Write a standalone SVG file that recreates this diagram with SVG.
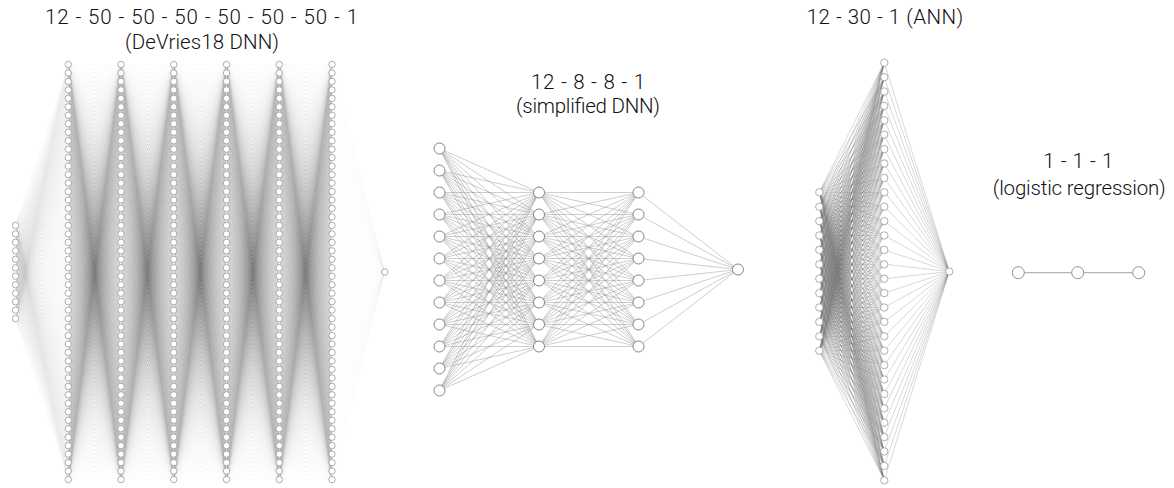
<svg xmlns="http://www.w3.org/2000/svg" xmlns:xlink="http://www.w3.org/1999/xlink" width="1174" height="488" viewBox="0 0 1174 488">
<style>
.t{font-family:"Roboto","Liberation Sans",sans-serif;font-weight:300;font-size:20.5px;fill:#111;text-anchor:middle}
.fan{fill:none;vector-effect:non-scaling-stroke}
.e50{stroke:#000;stroke-opacity:0.032;stroke-width:0.6}
.e8{stroke:#888;stroke-opacity:0.7;stroke-width:0.6}
.e30{stroke:#666;stroke-opacity:0.5;stroke-width:0.5}
.n50 circle{fill:#fff;stroke:#999;stroke-width:0.8}
.n8 circle{fill:#fff;stroke:#666;stroke-width:0.8}
.n30 circle{fill:#fff;stroke:#999;stroke-width:0.8}
.nl circle{fill:#fff;stroke:#777;stroke-width:0.8}
</style>
<defs>
<path id="fan50" class="fan e50" d="M0 0H52.75M0 0L52.75 8.47M0 0L52.75 16.94M0 0L52.75 25.41M0 0L52.75 33.88M0 0L52.75 42.35M0 0L52.75 50.82M0 0L52.75 59.29M0 0L52.75 67.76M0 0L52.75 76.23M0 0L52.75 84.7M0 0L52.75 93.17M0 0L52.75 101.64M0 0L52.75 110.11M0 0L52.75 118.58M0 0L52.75 127.05M0 0L52.75 135.52M0 0L52.75 143.99M0 0L52.75 152.46M0 0L52.75 160.93M0 0L52.75 169.4M0 0L52.75 177.87M0 0L52.75 186.34M0 0L52.75 194.81M0 0L52.75 203.28M0 0L52.75 211.75M0 0L52.75 220.22M0 0L52.75 228.69M0 0L52.75 237.16M0 0L52.75 245.63M0 0L52.75 254.1M0 0L52.75 262.57M0 0L52.75 271.04M0 0L52.75 279.51M0 0L52.75 287.98M0 0L52.75 296.45M0 0L52.75 304.92M0 0L52.75 313.39M0 0L52.75 321.86M0 0L52.75 330.33M0 0L52.75 338.8M0 0L52.75 347.27M0 0L52.75 355.74M0 0L52.75 364.21M0 0L52.75 372.68M0 0L52.75 381.15M0 0L52.75 389.62M0 0L52.75 398.09M0 0L52.75 406.56M0 0L52.75 415.03"/>
<g id="pair50">
<use xlink:href="#fan50"/>
<use xlink:href="#fan50" transform="matrix(1,-0.1606,0,1,0,8.47)"/>
<use xlink:href="#fan50" transform="matrix(1,-0.3211,0,1,0,16.94)"/>
<use xlink:href="#fan50" transform="matrix(1,-0.4817,0,1,0,25.41)"/>
<use xlink:href="#fan50" transform="matrix(1,-0.6423,0,1,0,33.88)"/>
<use xlink:href="#fan50" transform="matrix(1,-0.8028,0,1,0,42.35)"/>
<use xlink:href="#fan50" transform="matrix(1,-0.9634,0,1,0,50.82)"/>
<use xlink:href="#fan50" transform="matrix(1,-1.1240,0,1,0,59.29)"/>
<use xlink:href="#fan50" transform="matrix(1,-1.2846,0,1,0,67.76)"/>
<use xlink:href="#fan50" transform="matrix(1,-1.4451,0,1,0,76.23)"/>
<use xlink:href="#fan50" transform="matrix(1,-1.6057,0,1,0,84.7)"/>
<use xlink:href="#fan50" transform="matrix(1,-1.7663,0,1,0,93.17)"/>
<use xlink:href="#fan50" transform="matrix(1,-1.9268,0,1,0,101.64)"/>
<use xlink:href="#fan50" transform="matrix(1,-2.0874,0,1,0,110.11)"/>
<use xlink:href="#fan50" transform="matrix(1,-2.2480,0,1,0,118.58)"/>
<use xlink:href="#fan50" transform="matrix(1,-2.4085,0,1,0,127.05)"/>
<use xlink:href="#fan50" transform="matrix(1,-2.5691,0,1,0,135.52)"/>
<use xlink:href="#fan50" transform="matrix(1,-2.7297,0,1,0,143.99)"/>
<use xlink:href="#fan50" transform="matrix(1,-2.8902,0,1,0,152.46)"/>
<use xlink:href="#fan50" transform="matrix(1,-3.0508,0,1,0,160.93)"/>
<use xlink:href="#fan50" transform="matrix(1,-3.2114,0,1,0,169.4)"/>
<use xlink:href="#fan50" transform="matrix(1,-3.3719,0,1,0,177.87)"/>
<use xlink:href="#fan50" transform="matrix(1,-3.5325,0,1,0,186.34)"/>
<use xlink:href="#fan50" transform="matrix(1,-3.6931,0,1,0,194.81)"/>
<use xlink:href="#fan50" transform="matrix(1,-3.8537,0,1,0,203.28)"/>
<use xlink:href="#fan50" transform="matrix(1,-4.0142,0,1,0,211.75)"/>
<use xlink:href="#fan50" transform="matrix(1,-4.1748,0,1,0,220.22)"/>
<use xlink:href="#fan50" transform="matrix(1,-4.3354,0,1,0,228.69)"/>
<use xlink:href="#fan50" transform="matrix(1,-4.4959,0,1,0,237.16)"/>
<use xlink:href="#fan50" transform="matrix(1,-4.6565,0,1,0,245.63)"/>
<use xlink:href="#fan50" transform="matrix(1,-4.8171,0,1,0,254.1)"/>
<use xlink:href="#fan50" transform="matrix(1,-4.9776,0,1,0,262.57)"/>
<use xlink:href="#fan50" transform="matrix(1,-5.1382,0,1,0,271.04)"/>
<use xlink:href="#fan50" transform="matrix(1,-5.2988,0,1,0,279.51)"/>
<use xlink:href="#fan50" transform="matrix(1,-5.4593,0,1,0,287.98)"/>
<use xlink:href="#fan50" transform="matrix(1,-5.6199,0,1,0,296.45)"/>
<use xlink:href="#fan50" transform="matrix(1,-5.7805,0,1,0,304.92)"/>
<use xlink:href="#fan50" transform="matrix(1,-5.9411,0,1,0,313.39)"/>
<use xlink:href="#fan50" transform="matrix(1,-6.1016,0,1,0,321.86)"/>
<use xlink:href="#fan50" transform="matrix(1,-6.2622,0,1,0,330.33)"/>
<use xlink:href="#fan50" transform="matrix(1,-6.4228,0,1,0,338.8)"/>
<use xlink:href="#fan50" transform="matrix(1,-6.5833,0,1,0,347.27)"/>
<use xlink:href="#fan50" transform="matrix(1,-6.7439,0,1,0,355.74)"/>
<use xlink:href="#fan50" transform="matrix(1,-6.9045,0,1,0,364.21)"/>
<use xlink:href="#fan50" transform="matrix(1,-7.0650,0,1,0,372.68)"/>
<use xlink:href="#fan50" transform="matrix(1,-7.2256,0,1,0,381.15)"/>
<use xlink:href="#fan50" transform="matrix(1,-7.3862,0,1,0,389.62)"/>
<use xlink:href="#fan50" transform="matrix(1,-7.5467,0,1,0,398.09)"/>
<use xlink:href="#fan50" transform="matrix(1,-7.7073,0,1,0,406.56)"/>
<use xlink:href="#fan50" transform="matrix(1,-7.8679,0,1,0,415.03)"/>
</g>
<g id="col10" fill="#fff" stroke="#999" stroke-width="0.8">
<circle cx="0" cy="0" r="3.2"/><circle cx="0" cy="8.47" r="3.2"/><circle cx="0" cy="16.94" r="3.2"/><circle cx="0" cy="25.41" r="3.2"/><circle cx="0" cy="33.88" r="3.2"/><circle cx="0" cy="42.35" r="3.2"/><circle cx="0" cy="50.82" r="3.2"/><circle cx="0" cy="59.29" r="3.2"/><circle cx="0" cy="67.76" r="3.2"/><circle cx="0" cy="76.23" r="3.2"/>
</g>
<g id="col50">
<use xlink:href="#col10"/><use xlink:href="#col10" y="84.7"/><use xlink:href="#col10" y="169.4"/><use xlink:href="#col10" y="254.1"/><use xlink:href="#col10" y="338.8"/>
</g>
<path id="fan8" class="fan e8" d="M0 0H99.5M0 0L99.5 22M0 0L99.5 44M0 0L99.5 66M0 0L99.5 88M0 0L99.5 110M0 0L99.5 132M0 0L99.5 154"/>
<path id="fan30" class="fan e30" d="M0 0H65M0 0L65 14.4M0 0L65 28.8M0 0L65 43.2M0 0L65 57.6M0 0L65 72M0 0L65 86.4M0 0L65 100.8M0 0L65 115.2M0 0L65 129.6M0 0L65 144M0 0L65 158.4M0 0L65 172.8M0 0L65 187.2M0 0L65 201.6M0 0L65 216M0 0L65 230.4M0 0L65 244.8M0 0L65 259.2M0 0L65 273.6M0 0L65 288M0 0L65 302.4M0 0L65 316.8M0 0L65 331.2M0 0L65 345.6M0 0L65 360M0 0L65 374.4M0 0L65 388.8M0 0L65 403.2M0 0L65 417.6"/>
</defs>
<rect width="1174" height="488" fill="#fff"/>

<g id="connectors">
  <g id="devries-edges" transform="translate(0,64.5)">
    <g transform="translate(15.5,0)">
      <use xlink:href="#fan50" transform="matrix(1,-3.0508,0,1,0,160.93)"/>
      <use xlink:href="#fan50" transform="matrix(1,-3.2114,0,1,0,169.4)"/>
      <use xlink:href="#fan50" transform="matrix(1,-3.3719,0,1,0,177.87)"/>
      <use xlink:href="#fan50" transform="matrix(1,-3.5325,0,1,0,186.34)"/>
      <use xlink:href="#fan50" transform="matrix(1,-3.6931,0,1,0,194.81)"/>
      <use xlink:href="#fan50" transform="matrix(1,-3.8537,0,1,0,203.28)"/>
      <use xlink:href="#fan50" transform="matrix(1,-4.0142,0,1,0,211.75)"/>
      <use xlink:href="#fan50" transform="matrix(1,-4.1748,0,1,0,220.22)"/>
      <use xlink:href="#fan50" transform="matrix(1,-4.3354,0,1,0,228.69)"/>
      <use xlink:href="#fan50" transform="matrix(1,-4.4959,0,1,0,237.16)"/>
      <use xlink:href="#fan50" transform="matrix(1,-4.6565,0,1,0,245.63)"/>
      <use xlink:href="#fan50" transform="matrix(1,-4.8171,0,1,0,254.1)"/>
    </g>
    <use xlink:href="#pair50" x="68.25"/>
    <use xlink:href="#pair50" x="121"/>
    <use xlink:href="#pair50" x="173.75"/>
    <use xlink:href="#pair50" x="226.5"/>
    <use xlink:href="#pair50" x="279.25"/>
    <use xlink:href="#fan50" transform="translate(384.75,0) scale(-1,1) matrix(1,-3.9339,0,1,0,207.515)"/>
  </g>
  <g id="simplified-edges" transform="translate(0,192.5)">
    <g transform="translate(439.5,0)">
      <use xlink:href="#fan8" transform="matrix(1,0.4422,0,1,0,-44)"/>
      <use xlink:href="#fan8" transform="matrix(1,0.2211,0,1,0,-22)"/>
      <use xlink:href="#fan8"/>
      <use xlink:href="#fan8" transform="matrix(1,-0.2211,0,1,0,22)"/>
      <use xlink:href="#fan8" transform="matrix(1,-0.4422,0,1,0,44)"/>
      <use xlink:href="#fan8" transform="matrix(1,-0.6633,0,1,0,66)"/>
      <use xlink:href="#fan8" transform="matrix(1,-0.8844,0,1,0,88)"/>
      <use xlink:href="#fan8" transform="matrix(1,-1.1055,0,1,0,110)"/>
      <use xlink:href="#fan8" transform="matrix(1,-1.3266,0,1,0,132)"/>
      <use xlink:href="#fan8" transform="matrix(1,-1.5477,0,1,0,154)"/>
      <use xlink:href="#fan8" transform="matrix(1,-1.7688,0,1,0,176)"/>
      <use xlink:href="#fan8" transform="matrix(1,-1.9900,0,1,0,198)"/>
    </g>
    <g transform="translate(539,0)">
      <use xlink:href="#fan8"/>
      <use xlink:href="#fan8" transform="matrix(1,-0.2211,0,1,0,22)"/>
      <use xlink:href="#fan8" transform="matrix(1,-0.4422,0,1,0,44)"/>
      <use xlink:href="#fan8" transform="matrix(1,-0.6633,0,1,0,66)"/>
      <use xlink:href="#fan8" transform="matrix(1,-0.8844,0,1,0,88)"/>
      <use xlink:href="#fan8" transform="matrix(1,-1.1055,0,1,0,110)"/>
      <use xlink:href="#fan8" transform="matrix(1,-1.3266,0,1,0,132)"/>
      <use xlink:href="#fan8" transform="matrix(1,-1.5477,0,1,0,154)"/>
    </g>
    <use xlink:href="#fan8" transform="translate(738,0) scale(-1,1) matrix(1,-0.7739,0,1,0,77)"/>
  </g>
  <g id="ann-edges" transform="translate(0,62.7)">
    <g transform="translate(819.3,0)">
      <use xlink:href="#fan30" transform="matrix(1,-1.9938,0,1,0,129.6)"/>
      <use xlink:href="#fan30" transform="matrix(1,-2.2154,0,1,0,144)"/>
      <use xlink:href="#fan30" transform="matrix(1,-2.4369,0,1,0,158.4)"/>
      <use xlink:href="#fan30" transform="matrix(1,-2.6585,0,1,0,172.8)"/>
      <use xlink:href="#fan30" transform="matrix(1,-2.8800,0,1,0,187.2)"/>
      <use xlink:href="#fan30" transform="matrix(1,-3.1015,0,1,0,201.6)"/>
      <use xlink:href="#fan30" transform="matrix(1,-3.3231,0,1,0,216)"/>
      <use xlink:href="#fan30" transform="matrix(1,-3.5446,0,1,0,230.4)"/>
      <use xlink:href="#fan30" transform="matrix(1,-3.7662,0,1,0,244.8)"/>
      <use xlink:href="#fan30" transform="matrix(1,-3.9877,0,1,0,259.2)"/>
      <use xlink:href="#fan30" transform="matrix(1,-4.2092,0,1,0,273.6)"/>
      <use xlink:href="#fan30" transform="matrix(1,-4.4308,0,1,0,288)"/>
    </g>
    <use xlink:href="#fan30" transform="translate(949.3,0) scale(-1,1) matrix(1,-3.2123,0,1,0,208.8)"/>
  </g>
  <g id="logistic-edges" stroke="#999" stroke-width="0.9">
    <line x1="1024.3" y1="272.7" x2="1071.7" y2="272.7"/>
    <line x1="1083.7" y1="272.7" x2="1132.7" y2="272.7"/>
  </g>
</g>

<g id="devries-dnn">
  <g id="devries-input" class="n50" transform="translate(15.5,64.5)">
    <use xlink:href="#col10" y="160.93"/>
    <circle cx="0" cy="245.63" r="3.2"/><circle cx="0" cy="254.1" r="3.2"/>
  </g>
  <g id="devries-h1"><use xlink:href="#col50" x="68.25" y="64.5"/></g>
  <g id="devries-h2"><use xlink:href="#col50" x="121" y="64.5"/></g>
  <g id="devries-h3"><use xlink:href="#col50" x="173.75" y="64.5"/></g>
  <g id="devries-h4"><use xlink:href="#col50" x="226.5" y="64.5"/></g>
  <g id="devries-h5"><use xlink:href="#col50" x="279.25" y="64.5"/></g>
  <g id="devries-h6"><use xlink:href="#col50" x="332" y="64.5"/></g>
  <g id="devries-output" class="n50"><circle cx="384.75" cy="272" r="3.2"/></g>
  <text class="t" x="201.5" y="24" textLength="313" lengthAdjust="spacing">12 - 50 - 50 - 50 - 50 - 50 - 50 - 1</text>
  <text class="t" x="202" y="49" textLength="154" lengthAdjust="spacing">(DeVries18 DNN)</text>
</g>

<g id="simplified-dnn">
  <g id="simp-input" class="n8">
    <circle cx="439.5" cy="148.5" r="5.5"/><circle cx="439.5" cy="170.5" r="5.5"/><circle cx="439.5" cy="192.5" r="5.5"/><circle cx="439.5" cy="214.5" r="5.5"/><circle cx="439.5" cy="236.5" r="5.5"/><circle cx="439.5" cy="258.5" r="5.5"/><circle cx="439.5" cy="280.5" r="5.5"/><circle cx="439.5" cy="302.5" r="5.5"/><circle cx="439.5" cy="324.5" r="5.5"/><circle cx="439.5" cy="346.5" r="5.5"/><circle cx="439.5" cy="368.5" r="5.5"/><circle cx="439.5" cy="390.5" r="5.5"/>
  </g>
  <g id="simp-h1" class="n8">
    <circle cx="539" cy="192.5" r="5.5"/><circle cx="539" cy="214.5" r="5.5"/><circle cx="539" cy="236.5" r="5.5"/><circle cx="539" cy="258.5" r="5.5"/><circle cx="539" cy="280.5" r="5.5"/><circle cx="539" cy="302.5" r="5.5"/><circle cx="539" cy="324.5" r="5.5"/><circle cx="539" cy="346.5" r="5.5"/>
  </g>
  <g id="simp-h2" class="n8">
    <circle cx="638.5" cy="192.5" r="5.5"/><circle cx="638.5" cy="214.5" r="5.5"/><circle cx="638.5" cy="236.5" r="5.5"/><circle cx="638.5" cy="258.5" r="5.5"/><circle cx="638.5" cy="280.5" r="5.5"/><circle cx="638.5" cy="302.5" r="5.5"/><circle cx="638.5" cy="324.5" r="5.5"/><circle cx="638.5" cy="346.5" r="5.5"/>
  </g>
  <g id="simp-output" class="n8"><circle cx="738" cy="269.5" r="5.5"/></g>
  <text class="t" x="588" y="89" textLength="114" lengthAdjust="spacing">12 - 8 - 8 - 1</text>
  <text class="t" x="588" y="113" textLength="144" lengthAdjust="spacing">(simplified DNN)</text>
</g>

<g id="ann">
  <g id="ann-input" class="n30">
    <circle cx="819.3" cy="192.3" r="3.7"/><circle cx="819.3" cy="206.7" r="3.7"/><circle cx="819.3" cy="221.1" r="3.7"/><circle cx="819.3" cy="235.5" r="3.7"/><circle cx="819.3" cy="249.9" r="3.7"/><circle cx="819.3" cy="264.3" r="3.7"/><circle cx="819.3" cy="278.7" r="3.7"/><circle cx="819.3" cy="293.1" r="3.7"/><circle cx="819.3" cy="307.5" r="3.7"/><circle cx="819.3" cy="321.9" r="3.7"/><circle cx="819.3" cy="336.3" r="3.7"/><circle cx="819.3" cy="350.7" r="3.7"/>
  </g>
  <g id="ann-hidden" class="n30" transform="translate(884.3,62.7)">
    <circle cy="0" r="3.7"/><circle cy="14.4" r="3.7"/><circle cy="28.8" r="3.7"/><circle cy="43.2" r="3.7"/><circle cy="57.6" r="3.7"/><circle cy="72" r="3.7"/><circle cy="86.4" r="3.7"/><circle cy="100.8" r="3.7"/><circle cy="115.2" r="3.7"/><circle cy="129.6" r="3.7"/><circle cy="144" r="3.7"/><circle cy="158.4" r="3.7"/><circle cy="172.8" r="3.7"/><circle cy="187.2" r="3.7"/><circle cy="201.6" r="3.7"/><circle cy="216" r="3.7"/><circle cy="230.4" r="3.7"/><circle cy="244.8" r="3.7"/><circle cy="259.2" r="3.7"/><circle cy="273.6" r="3.7"/><circle cy="288" r="3.7"/><circle cy="302.4" r="3.7"/><circle cy="316.8" r="3.7"/><circle cy="331.2" r="3.7"/><circle cy="345.6" r="3.7"/><circle cy="360" r="3.7"/><circle cy="374.4" r="3.7"/><circle cy="388.8" r="3.7"/><circle cy="403.2" r="3.7"/><circle cy="417.6" r="3.7"/>
  </g>
  <g id="ann-output" class="n30"><circle cx="949.3" cy="271.5" r="3.7"/></g>
  <text class="t" x="885" y="24" textLength="156.6" lengthAdjust="spacing">12 - 30 - 1 (ANN)</text>
</g>

<g id="logistic">
  <g id="log-input" class="nl"><circle cx="1018.3" cy="272.7" r="6"/></g>
  <g id="log-hidden" class="nl"><circle cx="1077.7" cy="272.7" r="6"/></g>
  <g id="log-output" class="nl"><circle cx="1138.7" cy="272.7" r="6"/></g>
  <text class="t" x="1078.3" y="168" textLength="70" lengthAdjust="spacing">1 - 1 - 1</text>
  <text class="t" x="1079.3" y="195" textLength="173" lengthAdjust="spacing">(logistic regression)</text>
</g>
</svg>
